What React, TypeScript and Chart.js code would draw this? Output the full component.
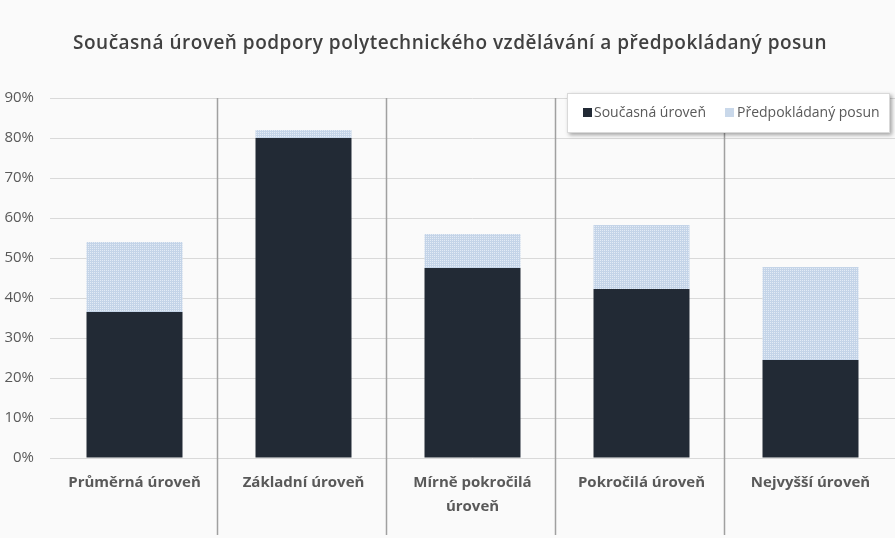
import React, { useEffect, useRef } from 'react';
import { Chart, registerables } from 'chart.js';

Chart.register(...registerables);

const chartTitle = 'Současná úroveň podpory polytechnického vzdělávání a předpokládaný posun';
const categories: string[][] = [
  ['Průměrná úroveň'],
  ['Základní úroveň'],
  ['Mírně pokročilá', 'úroveň'],
  ['Pokročilá úroveň'],
  ['Nejvyšší úroveň'],
];
const seriesNames = ['Současná úroveň', 'Předpokládaný posun'];
const currentLevel = [36.5, 80, 47.5, 42.25, 24.5];
const expectedShift = [17.5, 2, 8.5, 16, 23.25];
const yMax = 90;
const yStep = 10;

const DARK = '#222a35';
const LIGHT = '#c9d8ea';

function makePattern(): CanvasPattern | string {
  const c = document.createElement('canvas');
  c.width = 2;
  c.height = 2;
  const g = c.getContext('2d');
  if (!g) return LIGHT;
  g.fillStyle = '#c4d4e8';
  g.fillRect(0, 0, 2, 2);
  g.fillStyle = '#e3ebf5';
  g.fillRect(0, 0, 1, 1);
  const p = g.createPattern(c, 'repeat');
  return p || LIGHT;
}

const decorPlugin = {
  id: 'decor',
  beforeDraw(chart: any) {
    const { ctx, width, height } = chart;
    ctx.save();
    ctx.fillStyle = '#fafafa';
    ctx.fillRect(0, 0, width, height);
    ctx.restore();
  },
  afterDatasetsDraw(chart: any) {
    const { ctx, chartArea } = chart;
    const x = chart.scales.x;
    ctx.save();
    ctx.strokeStyle = '#a0a0a0';
    ctx.lineWidth = 1.5;
    for (let i = 0; i < categories.length - 1; i++) {
      const bx = Math.round((x.getPixelForValue(i) + x.getPixelForValue(i + 1)) / 2) - 1.5;
      ctx.beginPath();
      ctx.moveTo(bx, chartArea.top);
      ctx.lineTo(bx, chart.height - 3);
      ctx.stroke();
    }
    ctx.restore();
  },
  afterDraw(chart: any) {
    const { ctx } = chart;
    ctx.save();
    // title
    ctx.fillStyle = '#404040';
    ctx.font = '600 19px "Open Sans"';
    (ctx as any).letterSpacing = '0.5px';
    ctx.textAlign = 'center';
    ctx.textBaseline = 'middle';
    ctx.fillText(chartTitle, 450, 44);
    (ctx as any).letterSpacing = '0px';

    // legend box
    const bx = 567, by = 93, bw = 323, bh = 40;
    ctx.shadowColor = 'rgba(0,0,0,0.35)';
    ctx.shadowBlur = 4;
    ctx.shadowOffsetX = 2;
    ctx.shadowOffsetY = 2;
    ctx.fillStyle = '#ffffff';
    ctx.fillRect(bx, by, bw, bh);
    ctx.shadowColor = 'transparent';
    ctx.strokeStyle = '#d9d9d9';
    ctx.lineWidth = 1;
    ctx.strokeRect(bx + 0.5, by + 0.5, bw - 1, bh - 1);

    ctx.font = '14px "Open Sans"';
    ctx.textAlign = 'left';
    ctx.textBaseline = 'middle';
    const cy = by + bh / 2;
    ctx.fillStyle = DARK;
    ctx.fillRect(583, cy - 5, 9, 9);
    ctx.fillStyle = '#595959';
    ctx.fillText(seriesNames[0], 594, cy);
    ctx.fillStyle = LIGHT;
    ctx.fillRect(725, cy - 5, 9, 9);
    ctx.fillStyle = '#595959';
    ctx.fillText(seriesNames[1], 737, cy);
    ctx.restore();
  },
};

export default function App() {
  const ref = useRef<HTMLCanvasElement | null>(null);
  useEffect(() => {
    document.body.style.margin = '0';
    if (!ref.current) return;
    const pattern = makePattern();
    const chart = new Chart(ref.current, {
      type: 'bar',
      data: {
        labels: categories as any,
        datasets: [
          {
            label: seriesNames[0],
            data: currentLevel,
            backgroundColor: DARK,
            categoryPercentage: 1,
            barPercentage: 0.568,
          },
          {
            label: seriesNames[1],
            data: expectedShift,
            backgroundColor: pattern as any,
            categoryPercentage: 1,
            barPercentage: 0.568,
          },
        ],
      },
      options: {
        responsive: false,
        animation: false,
        layout: { padding: { top: 98, right: 0, left: 0, bottom: 0 } },
        plugins: {
          legend: { display: false },
          title: { display: false },
          tooltip: { enabled: false },
        },
        scales: {
          x: {
            stacked: true,
            grid: { display: false, drawTicks: false },
            border: { display: false },
            ticks: {
              color: '#595959',
              font: { family: '"Open Sans"', size: 15, weight: 'bold', lineHeight: 1.6 },
              padding: 13,
              maxRotation: 0,
              autoSkip: false,
            },
            afterFit: (s: any) => {
              s.height = 80;
            },
          },
          y: {
            stacked: true,
            min: 0,
            max: yMax,
            grid: { color: '#d9d9d9', drawTicks: false },
            border: { display: false },
            ticks: {
              stepSize: yStep,
              color: '#595959',
              font: { family: '"Open Sans"', size: 15 },
              padding: 16,
              callback: (v: any) => v + '%',
            },
            afterFit: (s: any) => {
              s.width = 50;
            },
          },
        },
      },
      plugins: [decorPlugin],
    });
    return () => chart.destroy();
  }, []);
  return <canvas ref={ref} width={895} height={538} style={{ display: 'block' }} />;
}
